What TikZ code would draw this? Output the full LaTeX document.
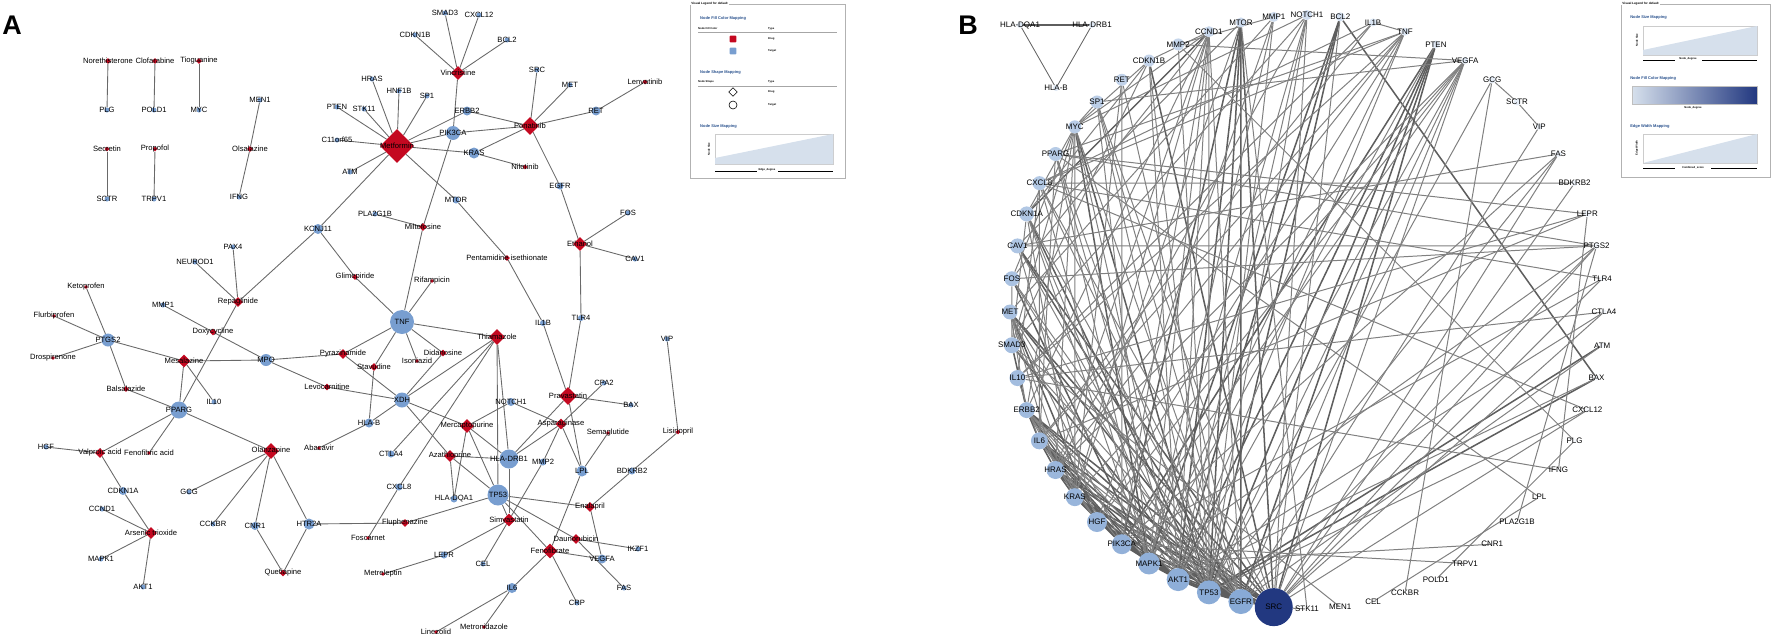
\documentclass[tikz,border=0pt]{standalone}
\usepackage{fontspec}
\setmainfont{Liberation Sans}
\usetikzlibrary{shapes.geometric, backgrounds}
\definecolor{drugred}{RGB}{196,8,32}
\definecolor{tgtblue}{RGB}{120,158,208}
\definecolor{navyblue}{RGB}{34,56,128}
\definecolor{edgegray}{RGB}{105,105,105}
\definecolor{legblue}{RGB}{40,80,140}
\definecolor{rampfill}{RGB}{214,224,236}

\begin{document}
\begin{tikzpicture}[
    x=0.03cm, y=-0.03cm,
    lbl/.style={font=\fontsize{6.5}{7}\selectfont, inner sep=0pt},
    blbl/.style={font=\fontsize{6.8}{7}\selectfont, inner sep=0pt},
    drug/.style={diamond, fill=drugred, inner sep=0pt, minimum size=#1*0.03cm},
    tgt/.style={circle, fill=tgtblue, inner sep=0pt, minimum size=#1*0.03cm},
    gene/.style={circle, inner sep=0pt, minimum size=#1*0.03cm},
    link/.style={draw=edgegray, line width=0.75pt},
    thick link/.style={draw=edgegray!90!black, line width=1.3pt},
    mid link/.style={draw=edgegray!85!white, line width=0.85pt},
    legtitle/.style={font=\fontsize{3.4}{4}\selectfont\bfseries, text=legblue, anchor=west, inner sep=0pt},
    legtext/.style={font=\fontsize{2.3}{3}\selectfont\bfseries, anchor=west, inner sep=0pt},
    panel/.style={font=\fontsize{23}{23}\selectfont\bfseries, inner sep=0pt}
]
\useasboundingbox (0,0) rectangle (1772,640);

% panel A: drug-target network
\node[panel] (labA) at (12,25) {A};

\foreach \nm/\x/\y/\s/\lab in {
    noreth/108/61/6/Norethisterone, clofar/155/61/6/Clofarabine, tiogu/199/61/6/Tioguanine,
    secret/107/149/5/Secretin, propof/155/149/5/Propofol, olsal/250/149/6/Olsalazine,
    metfor/397/146/34/Metformin, vincri/458/73/14/Vincristine, ponat/530/126/18/Ponatinib,
    lenva/645/82/5/Lenvatinib, nilot/525/167/5/Nilotinib, miltef/423/227/8/Miltefosine,
    penta/507/258/6/Pentamidine isethionate, ethan/580/244/14/Ethanol, repag/238/302/10/Repaglinide,
    glime/355/277/6/Glimepiride, rifam/432/281/4/Rifampicin, ketop/86/287/4/Ketoprofen,
    flurb/54/316/4/Flurbiprofen, drosp/53/358/4/Drospirenone, doxyc/213/332/7/Doxycycline,
    mesal/184/361/13/Mesalazine, balsa/126/389/6/Balsalazide, pyraz/343/354/10/Pyrazinamide,
    stavu/374/367/8/Stavudine, isoni/417/361/4/Isoniazid, didan/443/353/7/Didanosine,
    levoc/327/387/7/Levocarnitine, thiam/497/337/16/Thiamazole, prava/568/396/18/Pravastatin,
    mercap/467/426/14/Mercaptopurine, aspar/561/424/11/Asparaginase, semag/608/433/4/Semaglutide,
    lisin/678/432/5/Lisinopril, valpr/100/453/10/Valproic acid, fenoac/149/453/4/Fenofibric acid,
    olanz/271/451/16/Olanzapine, abaca/319/448/4/Abacavir, azath/450/456/12/Azathioprine,
    arsen/151/533/12/Arsenic trioxide, fluph/405/523/8/Fluphenazine, fosca/368/538/4/Foscarnet,
    quet/283/573/7/Quetiapine, metrel/383/574/4/Metreleptin, simva/509/520/13/Simvastatin,
    enala/590/507/10/Enalapril, dauno/576/539/10/Daunorubicin, fenof/550/551/15/Fenofibrate,
    linez/436/632/4/Linezolid, metron/484/627/4/Metronidazole}
  \node[drug=\s, label={[lbl]center:\lab}] (\nm) at (\x,\y) {};

\foreach \nm/\x/\y/\s/\lab in {
    plg/107/110/5/PLG, pold1/154/110/5/POLD1, myc/199/110/5/MYC, sctr/107/199/5/SCTR,
    trpv1/154/199/5/TRPV1, men1/260/100/5/MEN1, ifng/239/197/5/IFNG, cdkn1b/415/35/5/CDKN1B,
    hras/372/79/5/HRAS, hnf1b/399/91/5/HNF1B, sp1/427/96/5/SP1, pten/337/107/5/PTEN,
    stk11/364/109/5/STK11, c11orf/337/140/5/C11orf65, atm/350/172/5/ATM, pla2g1b/375/214/5/PLA2G1B,
    smad3/445/13/5/SMAD3, cxcl12/479/15/5/CXCL12, bcl2/507/40/5/BCL2, src/537/70/5/SRC,
    met/570/85/5/MET, ret/596/111/9/RET, erbb2/467/111/9/ERBB2, pik3ca/453/133/14/PIK3CA,
    kras/474/153/11/KRAS, egfr/560/186/7/EGFR, mtor/456/200/7/MTOR, fos/628/213/5/FOS,
    cav1/635/259/5/CAV1, kcnj11/318/229/10/KCNJ11, pax4/233/247/5/PAX4, neurod1/195/262/5/NEUROD1,
    mmp1/163/305/5/MMP1, tnf/402/322/24/TNF, ptgs2/108/340/13/PTGS2, mpo/266/360/12/MPO,
    il10/214/402/5/IL10, pparg/179/410/17/PPARG, xdh/402/400/15/XDH, hlab/369/423/9/HLA-B,
    tlr4/581/318/6/TLR4, il1b/543/323/6/IL1B, vip/667/339/5/VIP, cpa2/604/383/5/CPA2,
    bax/631/405/5/BAX, notch1/511/402/8/NOTCH1, hladrb1/509/459/19/HLA-DRB1, mmp2/543/462/7/MMP2,
    lpl/582/471/11/LPL, bdkrb2/632/471/7/BDKRB2, tp53/498/495/21/TP53, hladqa1/454/499/7/HLA-DQA1,
    hgf/46/447/5/HGF, ctla4/391/454/7/CTLA4, cdkn1a/123/491/8/CDKN1A, gcg/189/492/5/GCG,
    cxcl8/399/487/7/CXCL8, ccnd1/102/509/5/CCND1, cckbr/213/524/5/CCKBR, cnr1/255/526/8/CNR1,
    htr2a/309/524/11/HTR2A, mapk1/101/559/5/MAPK1, lepr/444/555/7/LEPR, akt1/143/587/5/AKT1,
    cel/483/564/5/CEL, ikzf1/638/549/5/IKZF1, vegfa/602/559/9/VEGFA, fas/624/588/5/FAS,
    il6/512/588/10/IL6, crp/577/603/5/CRP}
  \node[tgt=\s, label={[lbl]center:\lab}] (\nm) at (\x,\y) {};

\begin{scope}[on background layer]
\foreach \a/\b in {
    noreth/plg, clofar/pold1, tiogu/myc, secret/sctr, propof/trpv1, men1/olsal, olsal/ifng,
    metfor/hras, metfor/hnf1b, metfor/sp1, metfor/pten, metfor/stk11, metfor/c11orf, metfor/atm,
    metfor/erbb2, metfor/pik3ca, metfor/kras, metfor/mtor, metfor/kcnj11,
    vincri/smad3, vincri/cxcl12, vincri/cdkn1b, vincri/bcl2, vincri/pik3ca,
    ponat/src, ponat/met, ponat/ret, ponat/erbb2, ponat/pik3ca, ponat/kras, ponat/egfr,
    lenva/ret, nilot/kras, egfr/ethan, ethan/fos, ethan/cav1, ethan/tlr4, tlr4/prava,
    mtor/penta, penta/il1b, il1b/prava, pik3ca/miltef, miltef/pla2g1b, miltef/tnf,
    kcnj11/repag, kcnj11/glime, glime/tnf, rifam/tnf, pax4/repag, neurod1/repag, repag/pparg,
    ketop/ptgs2, flurb/ptgs2, drosp/ptgs2, ptgs2/mesal, ptgs2/balsa, balsa/pparg,
    mesal/pparg, mesal/il10, mesal/mpo, mmp1/doxyc, doxyc/mpo, mpo/pyraz, mpo/levoc,
    pyraz/tnf, pyraz/xdh, stavu/tnf, stavu/hlab, isoni/tnf, didan/tnf, didan/xdh, levoc/xdh,
    tnf/thiam, hlab/xdh, xdh/thiam, hlab/abaca, xdh/mercap, xdh/azath,
    thiam/ctla4, thiam/cxcl8, thiam/tp53, thiam/hladrb1,
    prava/bax, prava/hladrb1, prava/lpl, cpa2/aspar,
    mercap/notch1, notch1/aspar, mercap/hladqa1, mercap/hladrb1, mercap/tp53,
    azath/hladqa1, azath/hladrb1, azath/tp53, aspar/hladrb1, aspar/mmp2, aspar/lpl,
    semag/lpl, lisin/vip, lisin/bdkrb2, bdkrb2/enala,
    pparg/valpr, pparg/fenoac, pparg/olanz, hgf/valpr, valpr/cdkn1a, cdkn1a/arsen,
    ccnd1/arsen, mapk1/arsen, akt1/arsen,
    olanz/gcg, olanz/cckbr, olanz/cnr1, olanz/htr2a, cnr1/quet, htr2a/quet, htr2a/fluph, fluph/tp53,
    cxcl8/fosca, tp53/simva, tp53/enala, tp53/dauno, tp53/fenof,
    hladrb1/simva, mmp2/simva, simva/lepr, simva/cel, lepr/metrel,
    lpl/fenof, enala/vegfa, fenof/vegfa, fenof/crp, fenof/il6, il6/linez, il6/metron,
    dauno/ikzf1, dauno/fas}
  \draw[link] (\a) -- (\b);
\end{scope}

% legend A
\draw[gray!60, line width=0.6pt] (690,4) rectangle (845,178);
\node[legtext, fill=white, inner xsep=1pt, font=\fontsize{2.6}{3}\selectfont\bfseries] (legAt) at (690,4) {Visual Legend for default};
\node[legtitle] (legA1) at (700,18) {Node Fill Color Mapping};
\node[legtext] (legA1h) at (698,29) {Node Fill Color};
\node[legtext] (legA1t) at (768,29) {Type};
\draw[gray!70, line width=0.3pt] (698,32) -- (837,32);
\node[fill=drugred, rounded corners=0.6pt, minimum size=0.2cm, inner sep=0pt] (legAr) at (733,39) {};
\node[legtext] (legArt) at (768,39) {Drug};
\node[fill=tgtblue, rounded corners=0.6pt, minimum size=0.2cm, inner sep=0pt] (legAb) at (733,51) {};
\node[legtext] (legAbt) at (768,51) {Target};
\node[legtitle] (legA2) at (700,72) {Node Shape Mapping};
\node[legtext] (legA2h) at (698,82) {Node Shape};
\node[legtext] (legA2t) at (768,82) {Type};
\draw[gray!70, line width=0.3pt] (698,86) -- (837,86);
\node[diamond, draw, line width=0.5pt, minimum size=0.26cm, inner sep=0pt] (legAd) at (733,92) {};
\node[legtext] (legAdt) at (768,92) {Drug};
\node[circle, draw, line width=0.5pt, minimum size=0.24cm, inner sep=0pt] (legAc) at (733,105) {};
\node[legtext] (legAct) at (768,105) {Target};
\node[legtitle] (legA3) at (700,126) {Node Size Mapping};
\draw[gray!40, line width=0.3pt] (715,134) rectangle (833,164);
\fill[rampfill] (715,164) -- (715,158) -- (833,134) -- (833,164) -- cycle;
\draw[line width=0.3pt] (715,171) -- (757,171) (778,171) -- (833,171);
\node[legtext, anchor=center] (legA3x) at (767,170) {Edge\_degree};
\node[legtext, anchor=center, rotate=90] (legA3y) at (709,149) {Node Size};

% panel B: target interaction network
\node[panel] (labB) at (968,25) {B};

\node[gene=6, fill=tgtblue!25!white, label={[blbl]center:HLA-DQA1}] (hqa) at (1020,25) {};
\node[gene=6, fill=tgtblue!25!white, label={[blbl]center:HLA-DRB1}] (hdr) at (1092,25) {};
\node[gene=6, fill=tgtblue!25!white, label={[blbl]center:HLA-B}] (hb) at (1056,88) {};

\node[gene=38, fill=navyblue, label={[blbl]center:SRC}] (bSRC) at ({1307+297*cos(263.57)},{312-297*sin(263.57)}) {};
\foreach \nm/\sz/\sh [count=\i] in {
    EGFR/25/88, TP53/24/86, AKT1/23/84, MAPK1/22/82, PIK3CA/20/80, HGF/20/78, KRAS/18/76,
    HRAS/18/74, IL6/17/72, ERBB2/16/70, IL10/16/68, SMAD3/16/66, MET/15/64, FOS/15/62,
    CAV1/15/60, CDKN1A/15/58, CXCL8/14/56, PPARG/14/54, MYC/13/52, SP1/13/50, RET/12/46,
    CDKN1B/12/44, MMP2/12/42, CCND1/11/40, MTOR/10/38, MMP1/10/36, NOTCH1/10/34, BCL2/9/32,
    IL1B/8/28, TNF/8/26, PTEN/8/24, VEGFA/7/22, GCG/7/20, SCTR/7/18, VIP/6/16, FAS/6/15,
    BDKRB2/6/14, LEPR/6/13, PTGS2/6/12, TLR4/5/11, CTLA4/5/10, ATM/5/9, BAX/5/8, CXCL12/5/7,
    PLG/5/6, IFNG/4/5, LPL/4/5, PLA2G1B/4/4, CNR1/4/4, TRPV1/4/3, POLD1/4/3, CCKBR/4/2,
    CEL/4/2, MEN1/4/1, STK11/4/1}
{
  \pgfmathsetmacro\ang{263.57-6.4286*\i}
  \node[gene=\sz, fill=tgtblue!\sh!white, label={[blbl]center:\nm}] (b\nm)
    at ({1307+297*cos(\ang)},{312-297*sin(\ang)}) {};
}

\begin{scope}[on background layer]
\draw[thick link] (hqa) -- (hdr);
\draw[link] (hqa) -- (hb) (hdr) -- (hb);
\foreach \a/\b in {
    SRC/EGFR, SRC/TP53, SRC/AKT1, SRC/MAPK1, SRC/PIK3CA, SRC/KRAS, SRC/HRAS, SRC/ERBB2, SRC/MET,
    SRC/CAV1, SRC/PTEN, SRC/MTOR, SRC/IL6, SRC/CDKN1B,
    EGFR/TP53, EGFR/AKT1, EGFR/MAPK1, EGFR/PIK3CA, EGFR/HGF, EGFR/KRAS, EGFR/HRAS, EGFR/ERBB2,
    EGFR/MET, EGFR/PTEN, EGFR/MTOR, EGFR/CAV1,
    TP53/AKT1, TP53/MAPK1, TP53/PIK3CA, TP53/CDKN1A, TP53/MYC, TP53/PTEN, TP53/MTOR, TP53/BCL2,
    TP53/BAX, TP53/ATM, TP53/SMAD3, TP53/IL6,
    AKT1/MAPK1, AKT1/PIK3CA, AKT1/PTEN, AKT1/MTOR, AKT1/BCL2, AKT1/KRAS, AKT1/HRAS, AKT1/IL6,
    MAPK1/KRAS, MAPK1/HRAS, MAPK1/FOS, MAPK1/MYC, MAPK1/IL6, MAPK1/BCL2,
    PIK3CA/KRAS, PIK3CA/HRAS, PIK3CA/PTEN, PIK3CA/MTOR, PIK3CA/ERBB2,
    HGF/MET, KRAS/HRAS, HRAS/IL6, IL6/ERBB2, ERBB2/SMAD3, BCL2/BAX, CDKN1A/CCND1}
  \draw[thick link] (b\a) -- (b\b);
\foreach \a/\b in {
    SRC/CXCL8, SRC/NOTCH1, SRC/VEGFA, SRC/BDKRB2, SRC/PTGS2, SRC/TLR4, SRC/CXCL12,
    SRC/STK11, SRC/FAS, SRC/CTLA4, SRC/SP1, SRC/BCL2,
    EGFR/IL6, EGFR/SMAD3, EGFR/FOS, EGFR/CDKN1A, EGFR/CXCL8, EGFR/MYC, EGFR/SP1, EGFR/RET,
    EGFR/CCND1, EGFR/VEGFA, EGFR/PTGS2, EGFR/ATM, EGFR/VIP,
    TP53/ERBB2, TP53/FOS, TP53/CAV1, TP53/PPARG, TP53/SP1, TP53/CDKN1B, TP53/MMP2, TP53/CCND1,
    TP53/NOTCH1, TP53/VEGFA, TP53/FAS, TP53/GCG, TP53/CXCL12, TP53/MMP1,
    AKT1/ERBB2, AKT1/MET, AKT1/CDKN1A, AKT1/PPARG, AKT1/MYC, AKT1/CDKN1B, AKT1/CCND1, AKT1/VEGFA,
    AKT1/TNF, AKT1/CTLA4, AKT1/BAX, AKT1/NOTCH1,
    MAPK1/ERBB2, MAPK1/CDKN1A, MAPK1/CXCL8, MAPK1/PPARG, MAPK1/SP1, MAPK1/CCND1, MAPK1/MMP1,
    MAPK1/TNF, MAPK1/PTGS2, MAPK1/CNR1, MAPK1/PTEN, MAPK1/NOTCH1,
    PIK3CA/IL6, PIK3CA/MET, PIK3CA/CCND1, PIK3CA/RET, PIK3CA/VEGFA, PIK3CA/FAS, PIK3CA/TLR4,
    HGF/IL6, HGF/ERBB2, HGF/CAV1, HGF/MMP1, HGF/VEGFA, HGF/TNF,
    KRAS/ERBB2, KRAS/MYC, KRAS/CDKN1A, KRAS/CCND1, KRAS/MTOR, KRAS/MET, KRAS/RET, KRAS/VEGFA,
    HRAS/MET, HRAS/CCND1, HRAS/MYC, HRAS/NOTCH1, HRAS/VEGFA, HRAS/TNF,
    IL6/IL10, IL6/CXCL8, IL6/TNF, IL6/IL1B, IL6/LEPR, IL6/PPARG,
    ERBB2/MET, ERBB2/MYC, ERBB2/CCND1,
    IL10/TNF, IL10/IL1B, IL10/CXCL8, IL10/LEPR, IL10/CTLA4, IL10/IFNG,
    SMAD3/MYC, SMAD3/CDKN1A, SMAD3/CDKN1B, SMAD3/FOS, SMAD3/NOTCH1, SMAD3/MEN1,
    MET/MMP1, FOS/MYC, FOS/CCND1, FOS/PTGS2, CAV1/PTGS2, CAV1/FAS, CAV1/MTOR,
    CDKN1A/MYC, CDKN1A/CDKN1B, CXCL8/BDKRB2, CXCL8/CXCL12, CXCL8/IL1B, CXCL8/TNF, CXCL8/TLR4,
    PPARG/TNF, PPARG/LEPR, PPARG/PTGS2, PPARG/LPL, MYC/CCND1, MYC/SP1, MYC/NOTCH1, MYC/CDKN1B,
    SP1/VEGFA, CDKN1B/CCND1, MMP2/PLG, MMP2/VEGFA, MMP2/MMP1,
    GCG/SCTR, SCTR/VIP, IL1B/TNF, PTGS2/PLA2G1B, LEPR/IFNG, STK11/MTOR, CEL/LPL, POLD1/PLG,
    CCKBR/GCG, TRPV1/PIK3CA}
  \draw[mid link] (b\a) -- (b\b);
\end{scope}

% legend B
\draw[gray!60, line width=0.6pt] (1621,4) rectangle (1770,177);
\node[legtext, fill=white, inner xsep=1pt, font=\fontsize{2.6}{3}\selectfont\bfseries] (legBt) at (1621,4) {Visual Legend for default};
\node[legtitle] (legB1) at (1630,17) {Node Size Mapping};
\draw[gray!40, line width=0.3pt] (1643,26) rectangle (1757,55);
\fill[rampfill] (1643,55) -- (1643,50) -- (1757,26) -- (1757,55) -- cycle;
\draw[line width=0.3pt] (1643,60) -- (1675,60) (1702,60) -- (1757,60);
\node[legtext, anchor=center] (legB1x) at (1688,59) {Node\_degree};
\node[legtext, anchor=center, rotate=90] (legB1y) at (1637,40) {Node Size};
\node[legtitle] (legB2) at (1630,78) {Node Fill Color Mapping};
\shade[left color=rampfill, right color=navyblue] (1632,86) rectangle (1757,104);
\draw[gray!50, line width=0.3pt] (1632,86) rectangle (1757,104);
\node[legtext, anchor=center] (legB2x) at (1693,108) {Node\_degree};
\node[legtitle] (legB3) at (1630,126) {Edge Width Mapping};
\draw[gray!40, line width=0.3pt] (1643,134) rectangle (1757,163);
\fill[rampfill] (1643,163) -- (1757,134) -- (1757,163) -- cycle;
\draw[line width=0.3pt] (1643,168) -- (1675,168) (1711,168) -- (1757,168);
\node[legtext, anchor=center] (legB3x) at (1693,168) {Combined\_score};
\node[legtext, anchor=center, rotate=90] (legB3y) at (1637,148) {Edge Width};
\end{tikzpicture}
\end{document}
